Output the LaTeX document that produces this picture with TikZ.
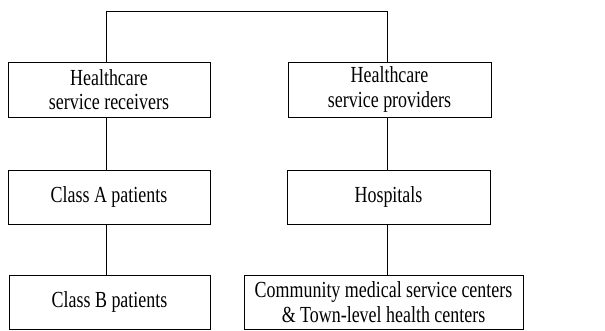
\documentclass[tikz,border=0pt]{standalone}
\usepackage{fontspec}
\setmainfont{Liberation Serif}[FakeStretch=0.78]
\begin{document}
\begin{tikzpicture}[x=1pt,y=-1pt,
  box/.style={draw, line width=1pt, rectangle, inner sep=0pt, align=center,
    font=\fontsize{23}{24.5}\selectfont},
  conn/.style={line width=1pt}]
\useasboundingbox (0,0) rectangle (605,330);
\node[box, minimum width=202pt, minimum height=55pt] (b1) at (109,89.5) {Healthcare\\service receivers};
\node[box, minimum width=203pt, minimum height=55pt] (b2) at (389.5,89.5) {Healthcare\\service providers};
\node[box, minimum width=202pt, minimum height=54pt] (b3) at (109,197) {Class A patients};
\node[box, minimum width=203pt, minimum height=54pt] (b4) at (388.5,197) {Hospitals};
\node[box, minimum width=201pt, minimum height=54pt] (b5) at (109.5,302) {Class B patients};
\node[box, minimum width=279pt, minimum height=54pt] (b6) at (383.5,302) {Community medical service centers\\\& Town-level health centers};
\coordinate (tl) at (106,11);
\coordinate (tr) at (387,11);
\draw[conn] (b1.north -| tl) -- (tl) -- (tr) -- (b2.north -| tr);
\draw[conn] (b1.south -| tl) -- (b3.north -| tl);
\draw[conn] (b3.south -| tl) -- (b5.north -| tl);
\draw[conn] (b2.south -| tr) -- (b4.north -| tr);
\draw[conn] (b4.south -| tr) -- (b6.north -| tr);
\end{tikzpicture}
\end{document}
